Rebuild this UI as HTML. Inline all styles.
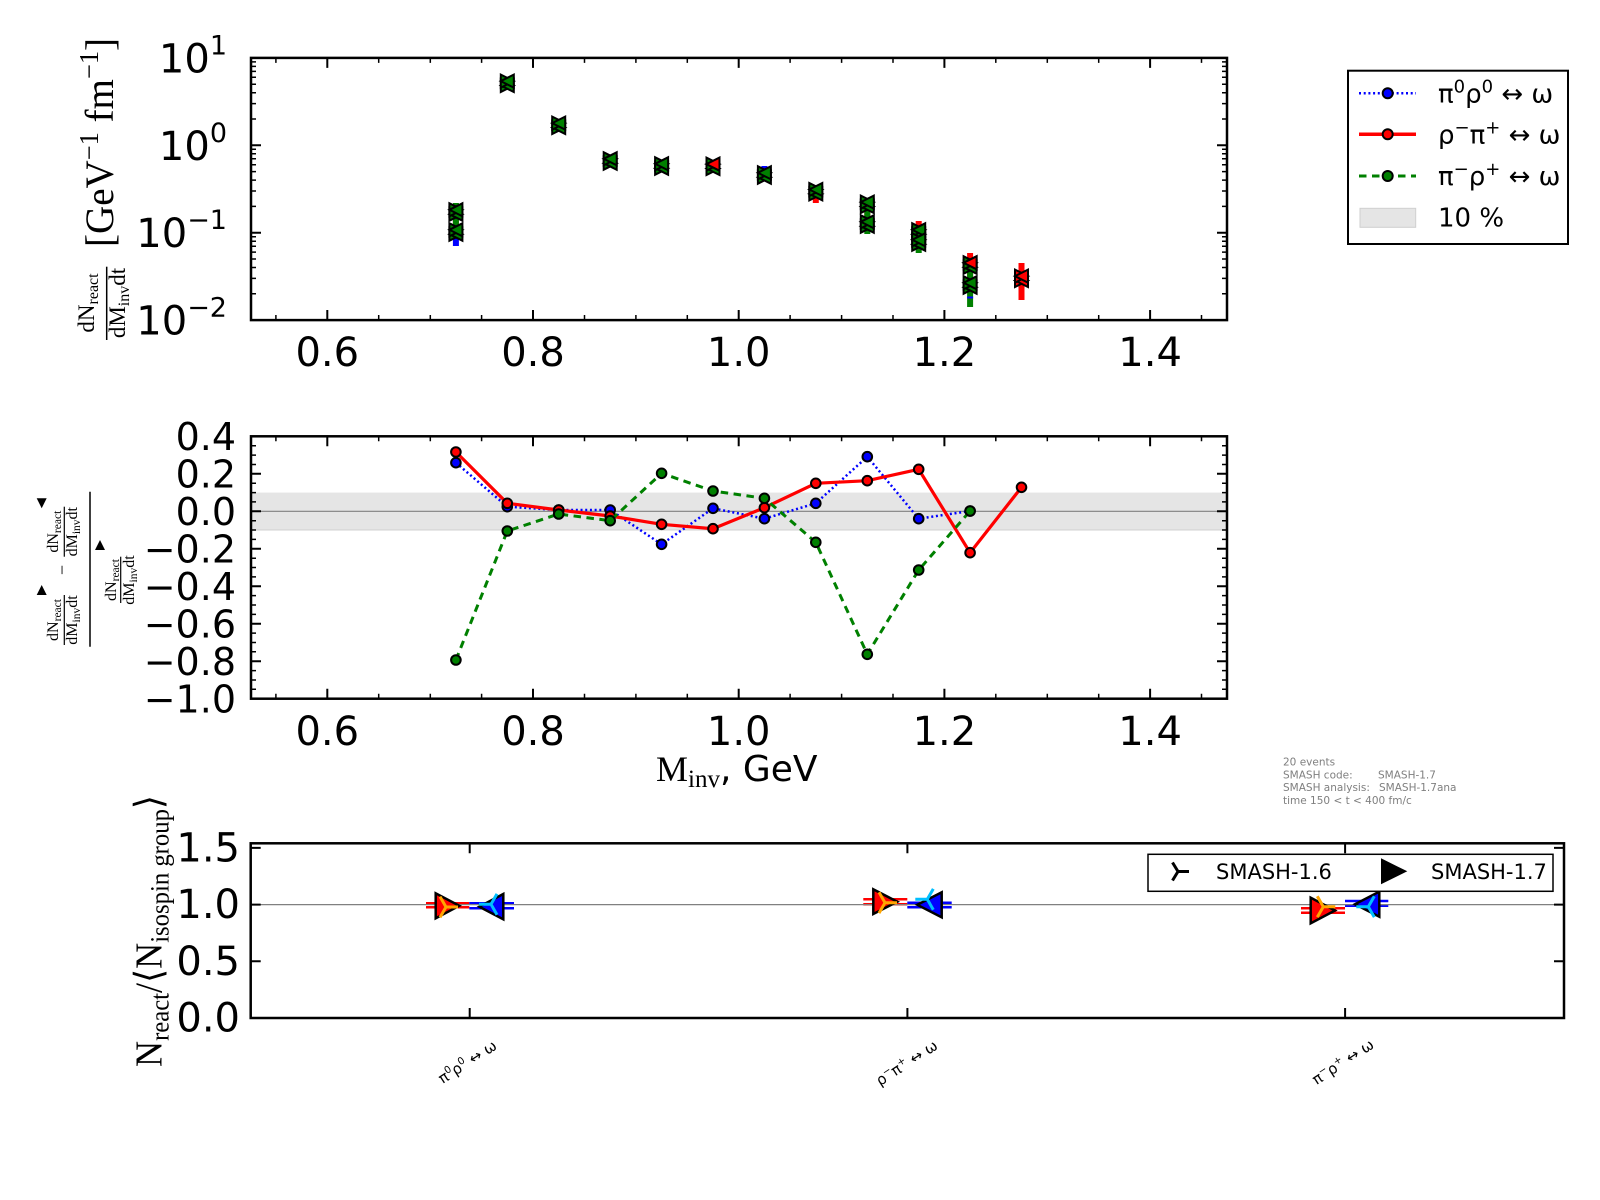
<!DOCTYPE html>
<html><head><meta charset="utf-8">
<style>html,body{margin:0;padding:0;background:#fff}svg{display:block}</style>
</head><body>
<svg width="1600" height="1200" viewBox="0 0 1600 1200" xmlns="http://www.w3.org/2000/svg" font-family="'DejaVu Sans','Liberation Sans',sans-serif">
<defs>
<polygon id="tl" points="6.5,-6.5 6.5,6.5 -6.5,0"/>
<polygon id="tr" points="-6.5,-6.5 -6.5,6.5 6.5,0"/>
<g id="bw"><use href="#tr" y="2.2"/><use href="#tl" y="2.2"/><use href="#tr" y="-2.2"/><use href="#tl" y="-2.2"/></g>
</defs>
<rect width="1600" height="1200" fill="#fff"/>

<!-- ================= TOP PLOT ================= -->
<g>
<rect x="452.9" y="210" width="6" height="30" fill="#f00"/>
<rect x="452.9" y="203" width="6" height="33" fill="#008000"/>
<rect x="452.9" y="238" width="6" height="8" fill="#00f"/>
<rect x="761.4" y="166" width="6" height="6" fill="#00f"/>
<rect x="812.8" y="186" width="6" height="17" fill="#f00"/>
<rect x="864.3" y="200" width="6" height="26" fill="#f00"/>
<rect x="864.3" y="205" width="6" height="29" fill="#008000"/>
<rect x="915.7" y="221" width="6" height="29" fill="#f00"/>
<rect x="915.7" y="226" width="6" height="27" fill="#008000"/>
<rect x="967.1" y="253" width="6" height="37" fill="#f00"/>
<rect x="967.1" y="270" width="6" height="37" fill="#008000"/>
<rect x="967.1" y="296.5" width="6" height="2" fill="#00f"/>
<rect x="1018.5" y="263" width="6" height="37" fill="#f00"/>
</g>
<g stroke="#000" stroke-width="2" fill="#008000" stroke-linejoin="miter">
<use href="#bw" x="455.9" y="212"/>
<use href="#bw" x="455.9" y="232"/>
<use href="#bw" x="507.3" y="83.3"/>
<use href="#bw" x="558.7" y="125.3"/>
<use href="#bw" x="610.2" y="161"/>
<use href="#bw" x="661.6" y="166"/>
<use href="#bw" x="713" y="166.3"/>
<use href="#tl" x="713" y="164.1" fill="#f00"/>
<use href="#bw" x="764.4" y="175"/>
<use href="#bw" x="815.8" y="191.7"/>
<use href="#bw" x="867.3" y="204.3"/>
<use href="#bw" x="867.3" y="224"/>
<use href="#bw" x="918.7" y="232"/>
<use href="#bw" x="918.7" y="242"/>
<use href="#bw" x="970.1" y="285"/>
<use href="#bw" x="970.1" y="265"/>
<use href="#tl" x="970.1" y="262.8" fill="#f00"/>
<use href="#bw" x="1021.5" y="278.3" fill="#f00"/>
</g>
<rect x="251" y="57.9" width="976" height="262.2" fill="none" stroke="#000" stroke-width="2.5"/>
<path stroke="#000" stroke-width="2" fill="none" d="M327.3 320v-10M533 320v-10M738.7 320v-10M944.4 320v-10M1150.1 320v-10M327.3 57.9v10M533 57.9v10M738.7 57.9v10M944.4 57.9v10M1150.1 57.9v10M251 232.7h10M251 145.3h10M1227 232.7h-10M1227 145.3h-10"/>
<path stroke="#000" stroke-width="1.5" fill="none" d="M275.9 320v-5M378.7 320v-5M430.3 320v-5M481.6 320v-5M584.5 320v-5M635.9 320v-5M687.3 320v-5M790.1 320v-5M841.6 320v-5M893 320v-5M995.8 320v-5M1047.3 320v-5M1098.7 320v-5M1201.5 320v-5M275.9 57.9v5M378.7 57.9v5M430.3 57.9v5M481.6 57.9v5M584.5 57.9v5M635.9 57.9v5M687.3 57.9v5M790.1 57.9v5M841.6 57.9v5M893 57.9v5M995.8 57.9v5M1047.3 57.9v5M1098.7 57.9v5M1201.5 57.9v5
M251 293.8h5M251 278.4h5M251 267.5h5M251 259h5M251 252.1h5M251 246.2h5M251 241.2h5M251 236.7h5M251 206.4h5M251 191h5M251 180.1h5M251 171.6h5M251 164.7h5M251 158.8h5M251 153.8h5M251 149.3h5M251 119h5M251 103.6h5M251 92.7h5M251 84.2h5M251 77.3h5M251 71.4h5M251 66.4h5M251 61.9h5
M1227 293.8h-5M1227 278.4h-5M1227 267.5h-5M1227 259h-5M1227 252.1h-5M1227 246.2h-5M1227 241.2h-5M1227 236.7h-5M1227 206.4h-5M1227 191h-5M1227 180.1h-5M1227 171.6h-5M1227 164.7h-5M1227 158.8h-5M1227 153.8h-5M1227 149.3h-5M1227 119h-5M1227 103.6h-5M1227 92.7h-5M1227 84.2h-5M1227 77.3h-5M1227 71.4h-5M1227 66.4h-5M1227 61.9h-5"/>
<g font-size="40" text-anchor="middle" fill="#000">
<text x="327.3" y="366">0.6</text><text x="533" y="366">0.8</text><text x="738.7" y="366">1.0</text><text x="944.4" y="366">1.2</text><text x="1150.1" y="366">1.4</text>
</g>
<g font-size="40" text-anchor="end" fill="#000">
<text x="227" y="72.4">10<tspan dy="-18" font-size="27">1</tspan></text>
<text x="227" y="159.8">10<tspan dy="-18" font-size="27">0</tspan></text>
<text x="227" y="247.2">10<tspan dy="-18" font-size="27">−1</tspan></text>
<text x="227" y="334.6">10<tspan dy="-18" font-size="27">−2</tspan></text>
</g>
<g transform="rotate(-90)" font-family="'Liberation Serif','DejaVu Serif',serif" fill="#000">
<text x="-142.5" y="113" font-size="40" text-anchor="middle" textLength="209" lengthAdjust="spacingAndGlyphs">[GeV<tspan dy="-15" font-size="27">−1</tspan><tspan dy="15">  fm</tspan><tspan dy="-15" font-size="27">−1</tspan><tspan dy="15">]</tspan></text>
<text x="-303" y="94" font-size="23" text-anchor="middle">dN<tspan dy="4" font-size="16">react</tspan></text>
<line x1="-340" x2="-266.7" y1="106.7" y2="106.7" stroke="#000" stroke-width="1.5"/>
<text x="-303" y="125" font-size="23" text-anchor="middle">dM<tspan dy="4" font-size="16">inv</tspan><tspan dy="-4">dt</tspan></text>
</g>

<!-- ================= LEGEND TOP ================= -->
<rect x="1348" y="70.7" width="220" height="173.3" fill="#fff" stroke="#000" stroke-width="2"/>
<line x1="1359" x2="1416" y1="93.3" y2="93.3" stroke="#00f" stroke-width="2.5" stroke-dasharray="2,2.7"/>
<circle cx="1387.7" cy="93.3" r="5" fill="#00f" stroke="#000" stroke-width="2"/>
<line x1="1359" x2="1416" y1="134.3" y2="134.3" stroke="#f00" stroke-width="3.5"/>
<circle cx="1387.7" cy="134.3" r="5" fill="#f00" stroke="#000" stroke-width="2"/>
<line x1="1359" x2="1416" y1="176" y2="176" stroke="#008000" stroke-width="3" stroke-dasharray="7.5,5.5"/>
<circle cx="1387.7" cy="176" r="5" fill="#008000" stroke="#000" stroke-width="2"/>
<rect x="1360" y="208.3" width="55.7" height="19" fill="#e5e5e5" stroke="#cfcfcf" stroke-width="1"/>
<g font-size="26" fill="#000">
<text x="1438" y="102.3">π<tspan dy="-10" font-size="18">0</tspan><tspan dy="10">ρ</tspan><tspan dy="-10" font-size="18">0</tspan><tspan dy="10"> ↔ ω</tspan></text>
<text x="1438" y="143.3">ρ<tspan dy="-10" font-size="18">−</tspan><tspan dy="10">π</tspan><tspan dy="-10" font-size="18">+</tspan><tspan dy="10"> ↔ ω</tspan></text>
<text x="1438" y="185">π<tspan dy="-10" font-size="18">−</tspan><tspan dy="10">ρ</tspan><tspan dy="-10" font-size="18">+</tspan><tspan dy="10"> ↔ ω</tspan></text>
<text x="1438" y="226.7">10 %</text>
</g>

<!-- ================= MIDDLE PLOT ================= -->
<rect x="251" y="492.56" width="976" height="37.48" fill="#e5e5e5"/>
<line x1="251" x2="1227" y1="530" y2="530" stroke="#d0d0d0" stroke-width="1"/>
<line x1="251" x2="1227" y1="511.3" y2="511.3" stroke="#808080" stroke-width="1.2"/>
<polyline fill="none" stroke="#00f" stroke-width="2.5" stroke-dasharray="2,2.7" points="455.9,462.7 507.3,506.7 558.7,510 610.2,510 661.6,544.3 713,508.3 764.4,518.7 815.8,503.3 867.3,456.7 918.7,518.7 970.1,511"/>
<g fill="#00f" stroke="#000" stroke-width="2">
<circle cx="455.9" cy="462.7" r="4.8"/><circle cx="507.3" cy="506.7" r="4.8"/><circle cx="558.7" cy="510" r="4.8"/><circle cx="610.2" cy="510" r="4.8"/><circle cx="661.6" cy="544.3" r="4.8"/><circle cx="713" cy="508.3" r="4.8"/><circle cx="764.4" cy="518.7" r="4.8"/><circle cx="815.8" cy="503.3" r="4.8"/><circle cx="867.3" cy="456.7" r="4.8"/><circle cx="918.7" cy="518.7" r="4.8"/><circle cx="970.1" cy="511" r="4.8"/>
</g>
<polyline fill="none" stroke="#f00" stroke-width="3.2" points="455.9,452 507.3,503.3 558.7,510 610.2,516 661.6,524.3 713,528.7 764.4,507.7 815.8,483.3 867.3,480.7 918.7,469.3 970.1,552.7 1021.5,487.3"/>
<g fill="#f00" stroke="#000" stroke-width="2">
<circle cx="455.9" cy="452" r="4.8"/><circle cx="507.3" cy="503.3" r="4.8"/><circle cx="558.7" cy="510" r="4.8"/><circle cx="610.2" cy="516" r="4.8"/><circle cx="661.6" cy="524.3" r="4.8"/><circle cx="713" cy="528.7" r="4.8"/><circle cx="764.4" cy="507.7" r="4.8"/><circle cx="815.8" cy="483.3" r="4.8"/><circle cx="867.3" cy="480.7" r="4.8"/><circle cx="918.7" cy="469.3" r="4.8"/><circle cx="970.1" cy="552.7" r="4.8"/><circle cx="1021.5" cy="487.3" r="4.8"/>
</g>
<polyline fill="none" stroke="#008000" stroke-width="3" stroke-dasharray="7.5,5.5" points="455.9,660 507.3,531 558.7,514 610.2,520.7 661.6,473.3 713,491 764.4,498.3 815.8,542.3 867.3,654.3 918.7,570 970.1,511"/>
<g fill="#008000" stroke="#000" stroke-width="2">
<circle cx="455.9" cy="660" r="4.8"/><circle cx="507.3" cy="531" r="4.8"/><circle cx="558.7" cy="514" r="4.8"/><circle cx="610.2" cy="520.7" r="4.8"/><circle cx="661.6" cy="473.3" r="4.8"/><circle cx="713" cy="491" r="4.8"/><circle cx="764.4" cy="498.3" r="4.8"/><circle cx="815.8" cy="542.3" r="4.8"/><circle cx="867.3" cy="654.3" r="4.8"/><circle cx="918.7" cy="570" r="4.8"/><circle cx="970.1" cy="511" r="4.8"/>
</g>
<rect x="251" y="436.3" width="976" height="262.4" fill="none" stroke="#000" stroke-width="2.5"/>
<path stroke="#000" stroke-width="2" fill="none" d="M327.3 698.7v-10M533 698.7v-10M738.7 698.7v-10M944.4 698.7v-10M1150.1 698.7v-10M327.3 436.3v10M533 436.3v10M738.7 436.3v10M944.4 436.3v10M1150.1 436.3v10
M251 473.8h10M251 511.3h10M251 548.8h10M251 586.3h10M251 623.7h10M251 661.2h10M1227 473.8h-10M1227 511.3h-10M1227 548.8h-10M1227 586.3h-10M1227 623.7h-10M1227 661.2h-10"/>
<path stroke="#000" stroke-width="1.5" fill="none" d="M275.9 698.7v-5M378.7 698.7v-5M430.3 698.7v-5M481.6 698.7v-5M584.5 698.7v-5M635.9 698.7v-5M687.3 698.7v-5M790.1 698.7v-5M841.6 698.7v-5M893 698.7v-5M995.8 698.7v-5M1047.3 698.7v-5M1098.7 698.7v-5M1201.5 698.7v-5M275.9 436.3v5M378.7 436.3v5M430.3 436.3v5M481.6 436.3v5M584.5 436.3v5M635.9 436.3v5M687.3 436.3v5M790.1 436.3v5M841.6 436.3v5M893 436.3v5M995.8 436.3v5M1047.3 436.3v5M1098.7 436.3v5M1201.5 436.3v5
M251 445.7h5M251 455.1h5M251 464.5h5M251 483.2h5M251 492.6h5M251 501.9h5M251 520.7h5M251 530h5M251 539.4h5M251 558.2h5M251 567.5h5M251 576.9h5M251 595.6h5M251 605h5M251 614.4h5M251 633.1h5M251 642.5h5M251 651.8h5M251 670.6h5M251 680h5M251 689.3h5
M1227 445.7h-5M1227 455.1h-5M1227 464.5h-5M1227 483.2h-5M1227 492.6h-5M1227 501.9h-5M1227 520.7h-5M1227 530h-5M1227 539.4h-5M1227 558.2h-5M1227 567.5h-5M1227 576.9h-5M1227 595.6h-5M1227 605h-5M1227 614.4h-5M1227 633.1h-5M1227 642.5h-5M1227 651.8h-5M1227 670.6h-5M1227 680h-5M1227 689.3h-5"/>
<g font-size="40" text-anchor="middle" fill="#000">
<text x="327.3" y="745">0.6</text><text x="533" y="745">0.8</text><text x="738.7" y="745">1.0</text><text x="944.4" y="745">1.2</text><text x="1150.1" y="745">1.4</text>
</g>
<g font-size="38" text-anchor="end" fill="#000">
<text x="236" y="450">0.4</text><text x="236" y="487.5">0.2</text><text x="236" y="525">0.0</text><text x="236" y="562.5">−0.2</text><text x="236" y="600">−0.4</text><text x="236" y="637.4">−0.6</text><text x="236" y="674.9">−0.8</text><text x="236" y="712.4">−1.0</text>
</g>
<text x="656" y="781" font-size="36" fill="#000"><tspan font-family="'Liberation Serif','DejaVu Serif',serif">M</tspan><tspan font-family="'Liberation Serif','DejaVu Serif',serif" font-size="25" dy="6">inv</tspan><tspan dy="-6">, GeV</tspan></text>
<g transform="rotate(-90)" font-family="'Liberation Serif','DejaVu Serif',serif" fill="#000">
<text x="-620" y="58" font-size="16" text-anchor="middle">dN<tspan dy="3" font-size="11.5">react</tspan></text>
<line x1="-645" x2="-595" y1="64.3" y2="64.3" stroke="#000" stroke-width="1.2"/>
<text x="-620" y="77" font-size="16" text-anchor="middle">dM<tspan dy="3" font-size="11.5">inv</tspan><tspan dy="-3">dt</tspan></text>
<text x="-570" y="68" font-size="18" text-anchor="middle">−</text>
<text x="-531.7" y="58" font-size="16" text-anchor="middle">dN<tspan dy="3" font-size="11.5">react</tspan></text>
<line x1="-556.7" x2="-506.7" y1="64.3" y2="64.3" stroke="#000" stroke-width="1.2"/>
<text x="-531.7" y="77" font-size="16" text-anchor="middle">dM<tspan dy="3" font-size="11.5">inv</tspan><tspan dy="-3">dt</tspan></text>
<line x1="-646.7" x2="-491.7" y1="90" y2="90" stroke="#000" stroke-width="1.5"/>
<text x="-580" y="116" font-size="16" text-anchor="middle">dN<tspan dy="3" font-size="11.5">react</tspan></text>
<line x1="-603" x2="-556.7" y1="120.7" y2="120.7" stroke="#000" stroke-width="1.2"/>
<text x="-580" y="134" font-size="16" text-anchor="middle">dM<tspan dy="3" font-size="11.5">inv</tspan><tspan dy="-3">dt</tspan></text>
</g>
<polygon points="36.7,595 46.7,595 41.7,585" fill="#000"/>
<polygon points="36.7,498.3 46.7,498.3 41.7,508.3" fill="#000"/>
<polygon points="95,550 105,550 100,540" fill="#000"/>

<g font-size="10.5" fill="#7f7f7f">
<text x="1283" y="765.5">20 events</text>
<text x="1283" y="778.5">SMASH code:</text><text x="1378" y="778.5">SMASH-1.7</text>
<text x="1283" y="791">SMASH analysis:</text><text x="1379" y="791">SMASH-1.7ana</text>
<text x="1283" y="803.8">time 150 &lt; t &lt; 400 fm/c</text>
</g>

<!-- ================= BOTTOM PLOT ================= -->
<g stroke-width="2.5" fill="none">
<line x1="426" x2="469.3" y1="903.3" y2="903.3" stroke="#f00"/>
<line x1="426" x2="469.3" y1="907.3" y2="907.3" stroke="#f00"/>
<line x1="469.3" x2="514" y1="903.3" y2="903.3" stroke="#00f"/>
<line x1="469.3" x2="514" y1="908.3" y2="908.3" stroke="#00f"/>
<line x1="863.3" x2="907.3" y1="899.3" y2="899.3" stroke="#f00"/>
<line x1="863.3" x2="907.3" y1="904.3" y2="904.3" stroke="#f00"/>
<line x1="907.3" x2="951.7" y1="902.7" y2="902.7" stroke="#00f"/>
<line x1="907.3" x2="951.7" y1="907.3" y2="907.3" stroke="#00f"/>
<line x1="1301" x2="1345" y1="908.3" y2="908.3" stroke="#f00"/>
<line x1="1301" x2="1345" y1="912.7" y2="912.7" stroke="#f00"/>
<line x1="1345" x2="1388.3" y1="901" y2="901" stroke="#00f"/>
<line x1="1345" x2="1388.3" y1="905.7" y2="905.7" stroke="#00f"/>
</g>
<line x1="250.7" x2="1564" y1="904.6" y2="904.6" stroke="#808080" stroke-width="1.2"/>
<g stroke="#000" stroke-width="2.5" stroke-linejoin="miter">
<polygon points="435.7,893.3 435.7,918.3 459.3,905.8" fill="#f00"/>
<polygon points="503.3,894 503.3,919.3 479.3,906.7" fill="#00f"/>
<polygon points="873.3,889.3 873.3,914 897.3,901.7" fill="#f00"/>
<polygon points="941.7,892.3 941.7,917.3 917.3,904.8" fill="#00f"/>
<polygon points="1310.7,897.7 1310.7,923.3 1335,910.5" fill="#f00"/>
<polygon points="1379.3,891.7 1379.3,916.7 1355,904.2" fill="#00f"/>
</g>
<g stroke-width="3" fill="none" stroke-linecap="butt">
<path stroke="#ffa500" d="M446 907h12M446 907l-6 -10.4M446 907l-6 10.4"/>
<path stroke="#00bfff" d="M491 904.3h-12M491 904.3l6 -10.4M491 904.3l6 10.4"/>
<path stroke="#ffa500" d="M885 902.7h12M885 902.7l-6 -10.4M885 902.7l-6 10.4"/>
<path stroke="#00bfff" d="M927.3 899.3h-12M927.3 899.3l6 -10.4M927.3 899.3l6 10.4"/>
<path stroke="#ffa500" d="M1323.3 906.7h12M1323.3 906.7l-6 -10.4M1323.3 906.7l-6 10.4"/>
<path stroke="#00bfff" d="M1368.3 906.7h-12M1368.3 906.7l6 -10.4M1368.3 906.7l6 10.4"/>
</g>
<rect x="250.7" y="843.3" width="1313.3" height="174.7" fill="none" stroke="#000" stroke-width="2.5"/>
<path stroke="#000" stroke-width="2" fill="none" d="M469.7 1018v-10M907.4 1018v-10M1345.1 1018v-10M469.7 843.3v10M907.4 843.3v10M1345.1 843.3v10M250.7 961.3h10M250.7 904.6h10M250.7 847.9h10M1564 961.3h-10M1564 904.6h-10M1564 847.9h-10"/>
<g font-size="40" text-anchor="end" fill="#000">
<text x="240" y="861.4">1.5</text><text x="240" y="918.1">1.0</text><text x="240" y="974.8">0.5</text><text x="240" y="1031.5">0.0</text>
</g>
<rect x="1148" y="854.3" width="405" height="37" fill="#fff" stroke="#000" stroke-width="1.5"/>
<path stroke="#000" stroke-width="3" fill="none" d="M1178 871.5h11M1178 871.5l-5.5 -9M1178 871.5l-5.5 9"/>
<polygon points="1381,858.3 1381,884.3 1407.3,871.3" fill="#000"/>
<g font-size="21" fill="#000">
<text x="1216" y="879">SMASH-1.6</text>
<text x="1431" y="879">SMASH-1.7</text>
</g>
<g transform="rotate(-90)" font-family="'Liberation Serif','DejaVu Serif',serif" fill="#000">
<text x="-931" y="161.5" font-size="38" text-anchor="middle" textLength="272" lengthAdjust="spacingAndGlyphs">N<tspan dy="7" font-size="26">react</tspan><tspan dy="-7">/⟨N</tspan><tspan dy="7" font-size="26">isospin group</tspan><tspan dy="-7">⟩</tspan></text>
</g>
<g font-size="15" fill="#000" text-anchor="middle">
<text transform="translate(467.5,1062) rotate(-33)" y="5">π<tspan dy="-6" font-size="10">0</tspan><tspan dy="6">ρ</tspan><tspan dy="-6" font-size="10">0</tspan><tspan dy="6"> ↔ ω</tspan></text>
<text transform="translate(906.7,1063) rotate(-33)" y="5">ρ<tspan dy="-6" font-size="10">−</tspan><tspan dy="6">π</tspan><tspan dy="-6" font-size="10">+</tspan><tspan dy="6"> ↔ ω</tspan></text>
<text transform="translate(1343,1062) rotate(-33)" y="5">π<tspan dy="-6" font-size="10">−</tspan><tspan dy="6">ρ</tspan><tspan dy="-6" font-size="10">+</tspan><tspan dy="6"> ↔ ω</tspan></text>
</g>
</svg>
</body></html>
